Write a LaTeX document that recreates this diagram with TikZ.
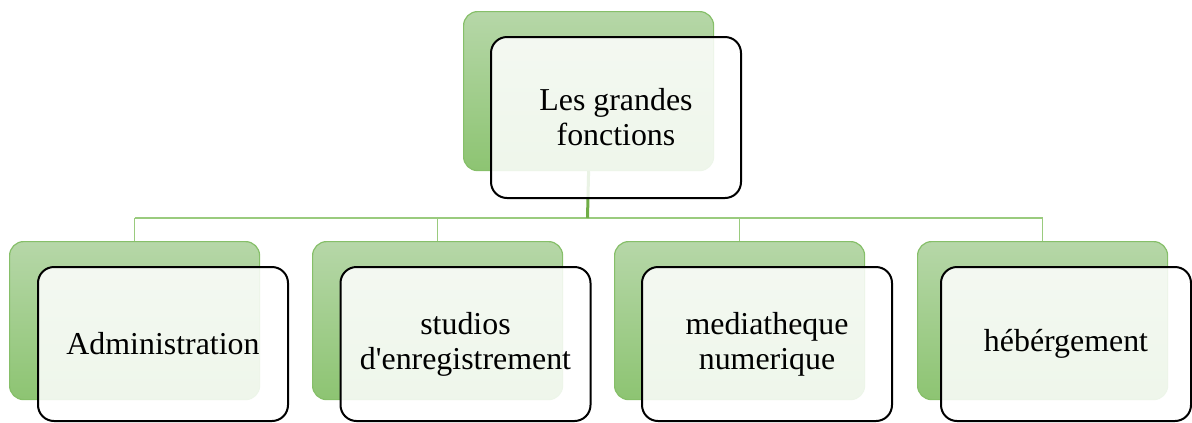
\documentclass[tikz,border=0pt]{standalone}
\usepackage{fontspec}
\setmainfont{Liberation Serif}
\definecolor{gtop}{HTML}{B6D7A8}
\definecolor{gbot}{HTML}{8DC472}
\definecolor{gedge}{HTML}{86BF69}
\definecolor{link}{HTML}{70AD47}
\definecolor{linklight}{HTML}{9ACB7E}
\tikzset{
  greenbox/.style={rectangle, rounded corners=14bp, draw=gedge, line width=1.2bp,
    top color=gtop, bottom color=gbot, minimum width=250bp, anchor=north west,
    inner sep=0pt},
  whitebox/.style={rectangle, rounded corners=16bp, draw=black, line width=2bp,
    fill=white, fill opacity=0.86, text opacity=1, minimum width=250bp,
    anchor=north west, align=center, inner sep=0pt,
    font=\fontsize{32}{35}\selectfont},
  trunk/.style={draw=link, line width=3bp},
  branch/.style={draw=linklight, line width=1.5bp},
}
\begin{document}
\begin{tikzpicture}[x=1bp, y=-1bp]
  \useasboundingbox (0,0) rectangle (1192,422);

  % level positions
  \coordinate (bus) at (587.5,218);

  % back (green) cards
  \node[greenbox, minimum height=159bp] (gt) at (463,11) {};
  \node[greenbox, minimum height=158bp] (g1) at (9,241) {};
  \node[greenbox, minimum height=158bp] (g2) at (312,241) {};
  \node[greenbox, minimum height=158bp] (g3) at (614,241) {};
  \node[greenbox, minimum height=158bp] (g4) at (917,241) {};

  % connectors
  \draw[branch] (g1.north |- bus) -- (g4.north |- bus);
  \draw[branch] (g1.north |- bus) -- (g1.north);
  \draw[branch] (g2.north |- bus) -- (g2.north);
  \draw[branch] (g3.north |- bus) -- (g3.north);
  \draw[branch] (g4.north |- bus) -- (g4.north);
  \draw[trunk] (gt.south) -- (bus);

  % front (white) cards with labels
  \node[whitebox, minimum height=161bp] (t) at (490,36) {Les grandes\\fonctions};
  \node[whitebox, minimum height=154bp] (w1) at (37,266) {Administration};
  \node[whitebox, minimum height=154bp] (w2) at (339.5,266) {studios\\d\textquotesingle enregistrement};
  \node[whitebox, minimum height=154bp] (w3) at (641,266) {mediatheque\\numerique};
  \node[whitebox, minimum height=154bp] (w4) at (940,266) {hébérgement};
\end{tikzpicture}
\end{document}
